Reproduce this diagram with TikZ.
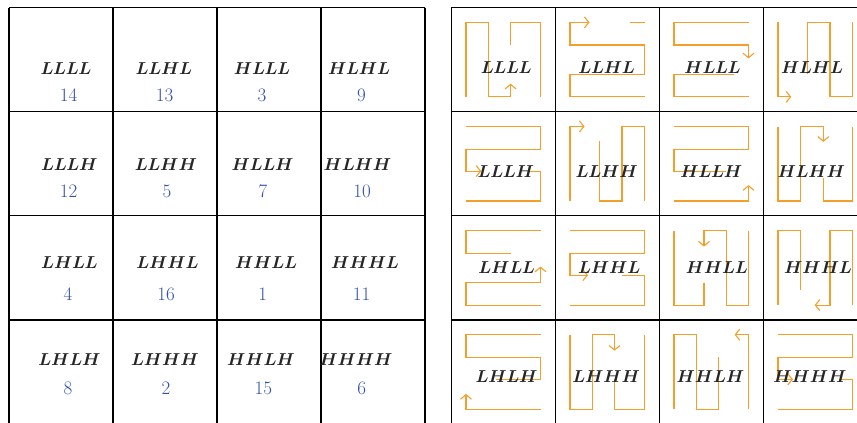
\documentclass[tikz,border=0pt]{standalone}
\usepackage{xcolor}
\usepackage{tikz}
\usetikzlibrary{arrows.meta}

\definecolor{routeorange}{RGB}{246,158,42}
\definecolor{numblue}{RGB}{48,80,170}

% letters of a label, each in a box of its own width
\makeatletter
\newcommand{\spellit}[1]{\@tfor\c:=#1\do{\makebox[\if\c H18.3pt\else12.6pt\fi]{$\c$}}}
\makeatother
\newcommand{\spelled}[1]{\edef\spelltmp{#1}\expandafter\spellit\expandafter{\spelltmp}}

\tikzset{
  gridline/.style={black, line width=1.1pt},
  route/.style={routeorange, line width=1.1pt},
  routeend/.style={route, -{Straight Barb[length=4.5pt,width=11pt]}},
  lbl/.style={anchor=base, inner sep=0pt, text=black!85, font=\fontsize{18}{20}\selectfont\boldmath},
  num/.style={anchor=base, inner sep=0pt, text=numblue, font=\fontsize{19}{21}\selectfont},
}

\begin{document}
\begin{tikzpicture}[x=1pt, y=-1pt]
    \useasboundingbox (0,0) rectangle (857,423);

    % Grids
    \foreach \i in {0,...,4} {
        \draw[gridline] (9+104*\i, 7.7) -- (9+104*\i, 424);
        \draw[gridline] (9, 7.7+104.1*\i) -- (425, 7.7+104.1*\i);
        \draw[gridline] (451.3+104*\i, 7.7) -- (451.3+104*\i, 424);
        \draw[gridline] (451.3, 7.7+104.1*\i) -- (867.3, 7.7+104.1*\i);
    }

    % Routes, row 1
    \begin{scope}[shift={(451.3,7.7)}] % LLLL
        \draw[routeend] (14.7,89.2) -- (14.7,14.7) -- (37.3,14.7) -- (37.3,89.2) -- (59.3,89.2) -- (59.3,76);
        \draw[route] (59.3,37.3) -- (59.3,14.7) -- (89.2,14.7) -- (89.2,89.2);
    \end{scope}
    \begin{scope}[shift={(555.3,7.7)}] % LLHL
        \draw[routeend] (89.2,89.2) -- (14.7,89.2) -- (14.7,66.7) -- (89.2,66.7) -- (89.2,37.3) -- (14.7,37.3) -- (14.7,14.7) -- (34.3,14.7);
        \draw[route] (74.3,14.7) -- (89.2,14.7);
    \end{scope}
    \begin{scope}[shift={(659.3,7.7)}] % HLLL
        \draw[routeend] (89.2,14.7) -- (14.7,14.7) -- (14.7,37.3) -- (89.2,37.3) -- (89.2,50.7);
        \draw[route] (74.3,66.7) -- (14.7,66.7) -- (14.7,89.2) -- (89.2,89.2);
    \end{scope}
    \begin{scope}[shift={(763.3,7.7)}] % HLHL
        \draw[routeend] (14.7,14.7) -- (14.7,89.2) -- (28,89.2);
        \draw[route] (44,66.7) -- (44,14.7) -- (66.7,14.7) -- (66.7,89.2) -- (89.2,89.2) -- (89.2,14.7);
    \end{scope}

    % Routes, row 2
    \begin{scope}[shift={(451.3,111.8)}] % LLLH
        \draw[routeend] (14.7,14.7) -- (89.2,14.7) -- (89.2,37.3) -- (14.7,37.3) -- (14.7,59.3) -- (30,59.3);
        \draw[route] (76.7,59.3) -- (89.2,59.3) -- (89.2,89.2) -- (14.7,89.2);
    \end{scope}
    \begin{scope}[shift={(555.3,111.8)}] % LLHH
        \draw[routeend] (14.7,89.2) -- (14.7,14.7) -- (29.3,14.7);
        \draw[route] (44.3,28.7) -- (44.3,89.2) -- (66.7,89.2) -- (66.7,14.7) -- (89.2,14.7) -- (89.2,89.2);
    \end{scope}
    \begin{scope}[shift={(659.3,111.8)}] % HLLH
        \draw[routeend] (14.7,89.2) -- (89.2,89.2) -- (89.2,73.3);
        \draw[route] (67,59.3) -- (14.7,59.3) -- (14.7,37.3) -- (89.2,37.3) -- (89.2,14.7) -- (14.7,14.7);
    \end{scope}
    \begin{scope}[shift={(763.3,111.8)}] % HLHH
        \draw[routeend] (14.7,14.7) -- (14.7,89.2) -- (37.3,89.2) -- (37.3,14.7) -- (60,14.7) -- (60,30);
        \draw[route] (60,66) -- (60,89.2) -- (89.2,89.2) -- (89.2,14.7);
    \end{scope}

    % Routes, row 3
    \begin{scope}[shift={(451.3,215.9)}] % LHLL
        \draw[routeend] (89.2,89.2) -- (14.7,89.2) -- (14.7,66.7) -- (89.2,66.7) -- (89.2,50.7);
        \draw[route] (89.2,14.7) -- (14.7,14.7) -- (14.7,37.3) -- (59.3,37.3);
    \end{scope}
    \begin{scope}[shift={(555.3,215.9)}] % LHHL
        \draw[routeend] (14.7,14.7) -- (89.2,14.7) -- (89.2,37.3) -- (14.7,37.3) -- (14.7,59.3) -- (32.7,59.3);
        \draw[route] (66.7,59.3) -- (89.2,59.3) -- (89.2,89.2) -- (14.7,89.2);
    \end{scope}
    \begin{scope}[shift={(659.3,215.9)}] % HHLL
        \draw[routeend] (89.2,14.7) -- (89.2,89.2) -- (67,89.2) -- (67,14.7) -- (44.7,14.7) -- (44.7,30.7);
        \draw[route] (44.7,66.7) -- (44.7,89.2) -- (14.7,89.2) -- (14.7,14.7);
    \end{scope}
    \begin{scope}[shift={(763.3,215.9)}] % HHHL
        \draw[routeend] (89.2,89.2) -- (89.2,14.7) -- (66.7,14.7) -- (66.7,89.2) -- (51.3,89.2);
        \draw[route] (37.3,74) -- (37.3,14.7) -- (14.7,14.7) -- (14.7,89.2);
    \end{scope}

    % Routes, row 4
    \begin{scope}[shift={(451.3,320)}] % LHLH
        \draw[routeend] (89.2,89.2) -- (14.7,89.2) -- (14.7,74);
        \draw[route] (89.2,14.7) -- (14.7,14.7) -- (14.7,37.3) -- (89.2,37.3) -- (89.2,59.3) -- (45,59.3);
    \end{scope}
    \begin{scope}[shift={(555.3,320)}] % LHHH
        \draw[routeend] (14.7,14.7) -- (14.7,89.2) -- (37.3,89.2) -- (37.3,14.7) -- (59.3,14.7) -- (59.3,30.7);
        \draw[route] (59.3,59.3) -- (59.3,89.2) -- (89.2,89.2) -- (89.2,14.7);
    \end{scope}
    \begin{scope}[shift={(659.3,320)}] % HHLH
        \draw[routeend] (89.2,89.2) -- (89.2,14.7) -- (75.3,14.7);
        \draw[route] (59.3,37.3) -- (59.3,89.2) -- (37.3,89.2) -- (37.3,14.7) -- (14.7,14.7) -- (14.7,89.2);
    \end{scope}
    \begin{scope}[shift={(763.3,320)}] % HHHH
        \draw[routeend] (14.7,14.7) -- (89.2,14.7) -- (89.2,37.3) -- (14.7,37.3) -- (14.7,59.3) -- (29.7,59.3);
        \draw[route] (76.3,59.3) -- (89.2,59.3) -- (89.2,89.2) -- (14.7,89.2);
    \end{scope}

    % Left labels with their numbers
    \foreach \x/\y/\t/\nx/\ny/\n in {
        66/74/LLLL/68.5/101.5/14, 164/74/LLHL/164.5/101.5/13,
        262/74/HLLL/262/101.5/3, 359/74/HLHL/361.5/101.5/9,
        69.5/170/LLLH/68.5/197/12, 166/170/LLHH/167/197/5,
        262.5/170/HLLH/263/197/7, 357.5/170/HLHH/362/197/10,
        69.5/268.5/LHLL/68/300.7/4, 167.5/268.5/LHHL/166/300.7/16,
        266/268.5/HHLL/262.7/300.7/1, 365/268.5/HHHL/361.5/300.7/11,
        69.5/365.5/LHLH/68/394/8, 165/365.5/LHHH/166/394/2,
        261/365.5/HHLH/263.3/394/15, 356/365.5/HHHH/361.7/394/6} {
        \node[lbl] (lab-\t) at (\x,\y) {\spelled{\t}};
        \node[num] (num-\t) at (\nx,\ny) {\n};
    }

    % Right labels
    \foreach \x/\y/\t in {
        506.3/73.3/LLLL, 606.7/73.3/LLHL, 712.5/73.3/HLLL, 812/73.3/HLHL,
        506/177.3/LLLH, 606.8/177.3/LLHH, 711.3/177.3/HLLH, 811.3/177.3/HLHH,
        506.7/273/LHLL, 609.3/273/LHHL, 716.7/273/HHLL, 818/273/HHHL,
        506.7/382/LHLH, 606.3/382/LHHH, 710.5/382/HHLH, 810/382/HHHH} {
        \node[lbl] (rt-\t) at (\x,\y) {\spelled{\t}};
    }
\end{tikzpicture}
\end{document}
